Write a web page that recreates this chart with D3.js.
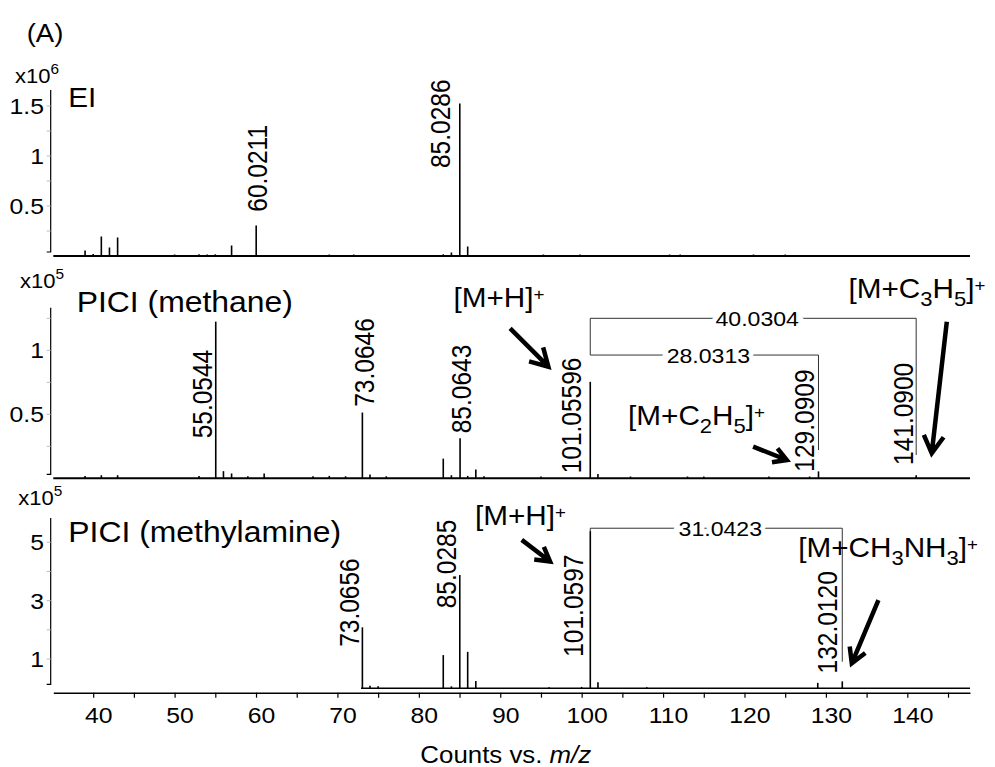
<!DOCTYPE html>
<html>
<head>
<meta charset="utf-8">
<script src="https://cdn.jsdelivr.net/npm/d3@7"></script>
<style>
  body { margin: 0; background: #fff; }
  svg { display: block; font-family: Arial, 'Liberation Sans', sans-serif; }
</style>
</head>
<body>
<svg id="chart" width="995" height="767"></svg>
<script>
// m/z axis
const mzDomain = [35.1, 147.7]
const mzMajor = [40, 50, 60, 70, 80, 90, 100, 110, 120, 130, 140]
const mzMinor = [45, 55, 65, 75, 85, 95, 105, 115, 125, 135, 145]

// EI spectrum (counts)
const eiMz = [39, 40, 41, 42, 43, 50, 53, 54, 55, 57, 60.0211, 69, 72, 83, 84, 85.0286, 86, 95.3, 99.8, 110.8, 112.1, 121.1, 125]
const eiCounts = [0.05e6, 0.015e6, 0.19e6, 0.08e6, 0.18e6, 0.01e6, 0.012e6, 0.01e6, 0.012e6, 0.10e6, 0.30e6, 0.01e6, 0.01e6, 0.012e6, 0.03e6, 1.52e6, 0.09e6, 0.01e6, 0.01e6, 0.01e6, 0.01e6, 0.01e6, 0.01e6]

// PICI (methane) spectrum
const methMz = [39, 41, 43, 53, 55.0544, 56, 57, 59, 61, 67, 69, 71, 73.0646, 74, 76, 83, 84, 85.0643, 86, 87, 88, 95, 101.05596, 102, 106, 113, 115, 123, 128, 129.0909, 141.09]
const methCounts = [0.015e5, 0.02e5, 0.02e5, 0.015e5, 1.22e5, 0.052e5, 0.034e5, 0.012e5, 0.034e5, 0.012e5, 0.015e5, 0.012e5, 0.51e5, 0.026e5, 0.012e5, 0.15e5, 0.02e5, 0.31e5, 0.015e5, 0.065e5, 0.012e5, 0.01e5, 0.75e5, 0.03e5, 0.01e5, 0.01e5, 0.01e5, 0.01e5, 0.01e5, 0.05e5, 0.02e5]

// PICI (methylamine) spectrum, scan starts near m/z 73
const amineStart = 72.9
const amineMz = [73.0656, 74, 75, 83, 84, 85.0285, 86, 87, 96, 100, 101.0597, 102, 108, 129, 132.012]
const amineCounts = [2.07e5, 0.07e5, 0.05e5, 1.12e5, 0.05e5, 3.86e5, 1.23e5, 0.23e5, 0.02e5, 0.03e5, 5.36e5, 0.19e5, 0.02e5, 0.17e5, 0.22e5]

// peak labels (text starts at "at" counts, dx = offset from the peak)
const eiLabels = [
  { text: '60.0211', mz: 60.0211, at: 0.443e6, dx: 11 },
  { text: '85.0286', mz: 85.0286, at: 0.88e6, dx: -10 }
]
const methLabels = [
  { text: '55.0544', mz: 55.0544, at: 0.3125e5, dx: -4 },
  { text: '73.0646', mz: 73.0646, at: 0.559e5, dx: 12 },
  { text: '85.0643', mz: 85.0643, at: 0.352e5, dx: 11 },
  { text: '101.05596', mz: 101.05596, at: 0.039e5, dx: -9 },
  { text: '129.0909', mz: 129.0909, at: 0.052e5, dx: -4 },
  { text: '141.0900', mz: 141.09, at: 0.104e5, dx: -3 }
]
const amineLabels = [
  { text: '73.0656', mz: 73.0656, at: 1.42e5, dx: -3 },
  { text: '85.0285', mz: 85.0285, at: 2.74e5, dx: -4 },
  { text: '101.0597', mz: 101.0597, at: 1.08e5, dx: -7 },
  { text: '132.0120', mz: 132.012, at: 0.51e5, dx: -5 }
]

// mass difference brackets
const methBrackets = [
  { text: '40.0304', from: 101.05596, to: 141.09, at: 1.25e5, fromLeg: 0.963e5, toLeg: 0.182e5 },
  { text: '28.0313', from: 101.05596, to: 129.0909, at: 0.963e5, fromLeg: 0.963e5, toLeg: 0.221e5 }
]
const amineBrackets = [
  { text: '31.0423', from: 101.0597, to: 132.012, at: 5.48e5, fromLeg: 5.36e5, toLeg: 0.91e5 }
]

// ion annotations
const methIons = [
  { parts: [['[M+H]'], ['+', 'sup']], mz: 84.26, at: 1.34e5 },
  { parts: [['[M+C'], ['2', 'sub'], ['H'], ['5', 'sub'], [']'], ['+', 'sup']], mz: 105.7, at: 0.416e5 },
  { parts: [['[M+C'], ['3', 'sub'], ['H'], ['5', 'sub'], [']'], ['+', 'sup']], mz: 132.77, at: 1.406e5 }
]
const amineIons = [
  { parts: [['[M+H]'], ['+', 'sup']], mz: 86.9, at: 5.59e5 },
  { parts: [['[M+CH'], ['3', 'sub'], ['NH'], ['3', 'sub'], [']'], ['+', 'sup']], mz: 126.6, at: 4.5e5 }
]
const methArrows = [
  { from: [91.21, 1.172e5], to: [95.91, 0.872e5], head: 20 },
  { from: [121.06, 0.247e5], to: [125.2, 0.143e5], head: 15 },
  { from: [144.85, 1.223e5], to: [143.0, 0.195e5], head: 20 }
]
const amineArrows = [
  { from: [92.64, 5.08e5], to: [96.12, 4.34e5], head: 16 },
  { from: [136.45, 3.02e5], to: [133.18, 0.856e5], head: 17 }
]

const settings = {
  sx: 1.1,               // glyphs in the figure are drawn a little wide
  axisX: 50.7,
  peakFont: 24.5,
  tickFont: 22.5
}

const panels = [
  { mz: eiMz, counts: eiCounts, labels: eiLabels, brackets: [], ions: [], arrows: [],
    top: 90, base: 256, max: 1.66e6, unit: 1e6, exp: '6', expPos: [15, 83.3],
    title: 'EI', titlePos: [68.3, 107.3], titleSize: 27,
    ticks: [0.5, 1, 1.5], minor: [0.25, 0.75, 1.25], start: null, lineW: 2.2 },
  { mz: methMz, counts: methCounts, labels: methLabels, brackets: methBrackets, ions: methIons, arrows: methArrows,
    top: 307.7, base: 478.3, max: 1.333e5, unit: 1e5, exp: '5', expPos: [20, 288.3],
    title: 'PICI (methane)', titlePos: [76.7, 311.7], titleSize: 29,
    ticks: [0.5, 1], minor: [0.25, 0.75, 1.25], start: null, lineW: 2 },
  { mz: amineMz, counts: amineCounts, labels: amineLabels, brackets: amineBrackets, ions: amineIons, arrows: amineArrows,
    top: 518, base: 688.3, max: 5.83e5, unit: 1e5, exp: '5', expPos: [18.3, 505],
    title: 'PICI (methylamine)', titlePos: [68.3, 541.7], titleSize: 29,
    ticks: [1, 3, 5], minor: [2, 4], start: amineStart, lineW: 1.5 }
]

const svg = d3.select('#chart')
const x = d3.scaleLinear().domain(mzDomain).range([53.3, 970])

function stretched(parent, px, py) {
  return parent.append('g').attr('transform', `translate(${px},${py}) scale(${settings.sx},1)`)
}

// (A)
stretched(svg, 26.7, 41.7).append('text')
  .attr('font-size', 25)
  .text('(A)')

panels.forEach(p => {
  const y = d3.scaleLinear().domain([0, p.max]).range([p.base, p.top])
  const g = svg.append('g')

  // y axis
  g.append('path')
    .attr('d', `M${settings.axisX - 4},${p.base - 4}H${settings.axisX}V${p.top}`)
    .attr('fill', 'none')
    .attr('stroke', '#000')
    .attr('stroke-width', 1.2)

  g.selectAll('line.ytick').data(p.ticks.concat(p.minor))
    .enter().append('line')
      .attr('class', 'ytick')
      .attr('x1', settings.axisX - 4)
      .attr('x2', settings.axisX)
      .attr('y1', d => y(d * p.unit))
      .attr('y2', d => y(d * p.unit))
      .attr('stroke', '#bbb')
      .attr('stroke-width', 1)

  p.ticks.forEach(t => {
    stretched(g, 44, y(t * p.unit)).append('text')
      .attr('font-size', settings.tickFont)
      .attr('text-anchor', 'end')
      .attr('dy', '0.36em')
      .text(t)
  })

  // scale factor
  const ex = stretched(g, p.expPos[0], p.expPos[1]).append('text')
    .attr('font-size', 20)
  ex.append('tspan').text('x10')
  ex.append('tspan').attr('font-size', 14).attr('dy', -9).text(p.exp)

  // panel title
  stretched(g, p.titlePos[0], p.titlePos[1]).append('text')
    .attr('font-size', p.titleSize)
    .text(p.title)

  // brackets
  p.brackets.forEach(b => {
    g.append('path')
      .attr('d', `M${x(b.from)},${y(b.fromLeg)}V${y(b.at)}H${x(b.to)}V${y(b.toLeg)}`)
      .attr('fill', 'none')
      .attr('stroke', '#333')
      .attr('stroke-width', 1)
    stretched(g, (x(b.from) + x(b.to)) / 2 + 4, y(b.at)).append('text')
      .attr('font-size', 21)
      .attr('text-anchor', 'middle')
      .attr('dy', '0.36em')
      .attr('stroke', '#fff')
      .attr('stroke-width', 9)
      .attr('paint-order', 'stroke')
      .text(b.text)
  })

  // baseline of the trace
  g.append('line')
    .attr('x1', x(p.start === null ? mzDomain[0] : p.start))
    .attr('x2', x(mzDomain[1]))
    .attr('y1', p.base)
    .attr('y2', p.base)
    .attr('stroke', '#000')
    .attr('stroke-width', p.lineW)

  // peaks
  g.selectAll('line.peak').data(p.mz)
    .enter().append('line')
      .attr('class', 'peak')
      .attr('x1', d => x(d))
      .attr('x2', d => x(d))
      .attr('y1', p.base)
      .attr('y2', (d, i) => y(p.counts[i]) - 0.5)
      .attr('stroke', '#000')
      .attr('stroke-width', 1.6)

  // peak labels
  p.labels.forEach(l => {
    stretched(g, x(l.mz) + l.dx, y(l.at)).append('text')
      .attr('transform', 'rotate(-90)')
      .attr('font-size', settings.peakFont)
      .text(l.text)
  })

  // ion names
  p.ions.forEach(ion => {
    const t = stretched(g, x(ion.mz), y(ion.at)).append('text')
      .attr('font-size', 27)
    let shift = 0
    ion.parts.forEach(([s, kind]) => {
      const target = kind === 'sub' ? 8 : kind === 'sup' ? -7 : 0
      t.append('tspan')
        .attr('dy', target - shift)
        .attr('font-size', kind ? (kind === 'sub' ? 20 : 17) : 27)
        .text(s)
      shift = target
    })
  })

  // arrows
  p.arrows.forEach(a => {
    const x0 = x(a.from[0]), y0 = y(a.from[1])
    const x1 = x(a.to[0]), y1 = y(a.to[1])
    const ang = Math.atan2(y0 - y1, x0 - x1)
    const spread = 0.52
    const hx1 = x1 + a.head * Math.cos(ang + spread), hy1 = y1 + a.head * Math.sin(ang + spread)
    const hx2 = x1 + a.head * Math.cos(ang - spread), hy2 = y1 + a.head * Math.sin(ang - spread)
    g.append('path')
      .attr('d', `M${x0},${y0}L${x1},${y1}M${hx1},${hy1}L${x1},${y1}L${hx2},${hy2}`)
      .attr('fill', 'none')
      .attr('stroke', '#000')
      .attr('stroke-width', 4.5)
      .attr('stroke-linejoin', 'miter')
})
})

// m/z axis under the last panel
const axisY = 692.7
const xAxis = d3.axisBottom(x)
  .tickValues(mzMajor.concat(mzMinor))
  .tickSize(5)
  .tickSizeOuter(0)
  .tickFormat(d => mzMajor.includes(d) ? d : '')

const ax = svg.append('g')
  .attr('transform', `translate(0,${axisY})`)
  .call(xAxis)

ax.select('.domain').attr('stroke-width', 1.5)
ax.selectAll('.tick line').attr('stroke-width', 1.2)
ax.selectAll('.tick text')
  .attr('font-size', settings.tickFont)
  .attr('font-family', 'Arial, Liberation Sans, sans-serif')
  .attr('fill', '#000')
  .attr('y', 30.5)
  .attr('dy', 0)
  .attr('transform', `translate(5,0) scale(${settings.sx},1)`)

const title = stretched(svg, 505.8, 762.7).append('text')
  .attr('font-size', 23.5)
  .attr('text-anchor', 'middle')
title.append('tspan').text('Counts vs. ')
title.append('tspan').attr('font-style', 'italic').text('m/z')
</script>
</body>
</html>
